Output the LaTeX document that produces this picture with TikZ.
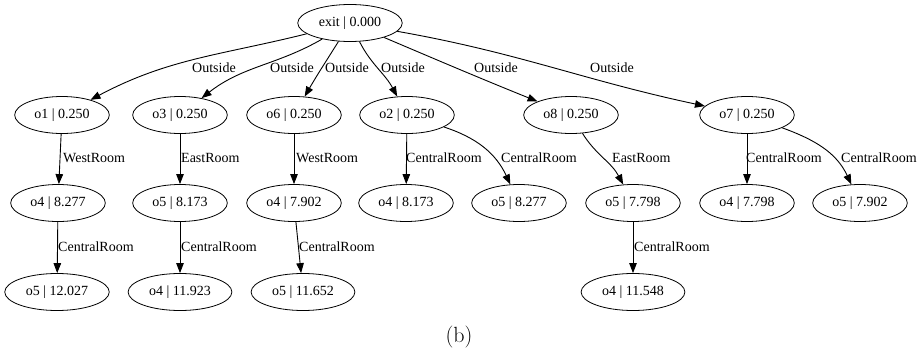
\documentclass[tikz,border=0pt]{standalone}
\usepackage{fontspec}
\setmainfont{Liberation Serif}
\newfontfamily\capfont{Latin Modern Roman}
\usetikzlibrary{shapes.geometric,arrows.meta}
\tikzset{
  st/.style={draw,ellipse,line width=0.8pt,inner xsep=5.8pt,inner ysep=3pt,minimum height=37pt,font=\fontsize{14}{16}\selectfont},
  ed/.style={draw,line width=0.9pt,-{Triangle[length=10pt,width=7.5pt]}},
  lb/.style={font=\fontsize{14}{16}\selectfont,inner sep=0pt},
}
\begin{document}
\begin{tikzpicture}[x=1pt,y=-1pt]
\useasboundingbox (0,0) rectangle (924,356);
% nodes
\node[st] (exit) at (350,23) {exit | 0.000};
\node[st] (o1) at (62,115) {o1 | 0.250};
\node[st] (o3) at (180,115) {o3 | 0.250};
\node[st] (o6) at (294,115) {o6 | 0.250};
\node[st] (o2) at (407,115) {o2 | 0.250};
\node[st] (o8) at (571,115) {o8 | 0.250};
\node[st] (o7) at (747,115) {o7 | 0.250};
\node[st] (a1) at (58,203) {o4 | 8.277};
\node[st] (a2) at (180,203) {o5 | 8.173};
\node[st] (a3) at (294,203) {o4 | 7.902};
\node[st] (a4) at (406,203) {o4 | 8.173};
\node[st] (a5) at (519,203) {o5 | 8.277};
\node[st] (a6) at (633,203) {o5 | 7.798};
\node[st] (a7) at (747,203) {o4 | 7.798};
\node[st] (a8) at (860,203) {o5 | 7.902};
\node[st] (b1) at (57,292) {o5 | 12.027};
\node[st] (b2) at (180,292) {o4 | 11.923};
\node[st] (b3) at (303,292) {o5 | 11.652};
\node[st] (b4) at (633,292) {o4 | 11.548};
% edges from exit
\path[ed] (exit) to[out=194,in=28] (o1);
\path[ed] (exit) to[out=210,in=38] (o3);
\path[ed] (exit) to[out=238,in=60] (o6);
\path[ed] (exit) to[out=297,in=118] (o2);
\path[ed] (exit) to[out=337,in=158] (o8);
\path[ed] (exit) to[out=350,in=168] (o7);
\node[lb] (l1) at (214,68) {Outside};
\node[lb] (l2) at (292,68) {Outside};
\node[lb] (l3) at (347,68) {Outside};
\node[lb] (l4) at (403,68) {Outside};
\node[lb] (l5) at (496,68) {Outside};
\node[lb] (l6) at (612,68) {Outside};
% row 1 -> row 2
\path[ed] (o1) -- (a1);
\path[ed] (o3) -- (a2);
\path[ed] (o6) -- (a3);
\path[ed] (o2) -- (a4);
\path[ed] (o2) to[out=-18,in=115] (a5);
\path[ed] (o8) to[out=-58,in=118] (a6);
\path[ed] (o7) -- (a7);
\path[ed] (o7) to[out=-20,in=115] (a8);
\node[lb,anchor=west] (m1) at (63,158) {WestRoom};
\node[lb,anchor=west] (m2) at (181,158) {EastRoom};
\node[lb,anchor=west] (m3) at (296,158) {WestRoom};
\node[lb,anchor=west] (m4) at (406,158) {CentralRoom};
\node[lb,anchor=west] (m5) at (501,158) {CentralRoom};
\node[lb,anchor=west] (m6) at (612,158) {EastRoom};
\node[lb,anchor=west] (m7) at (746,158) {CentralRoom};
\node[lb,anchor=west] (m8) at (841,158) {CentralRoom};
% row 2 -> row 3
\path[ed] (a1) -- (b1);
\path[ed] (a2) -- (b2);
\path[ed] (a3) -- (b3);
\path[ed] (a6) -- (b4);
\node[lb,anchor=west] (n1) at (58,247) {CentralRoom};
\node[lb,anchor=west] (n2) at (181,247) {CentralRoom};
\node[lb,anchor=west] (n3) at (299,247) {CentralRoom};
\node[lb,anchor=west] (n4) at (634,247) {CentralRoom};
% caption
\node[font=\capfont\fontsize{22}{26}\selectfont,inner sep=0pt] (cap) at (459,337) {(b)};
\end{tikzpicture}
\end{document}
